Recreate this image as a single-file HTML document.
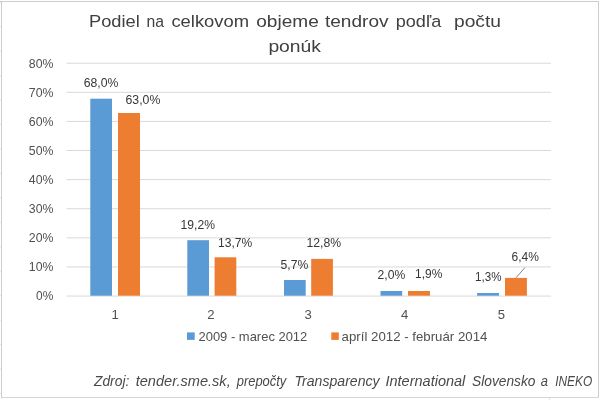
<!DOCTYPE html>
<html lang="sk"><head><meta charset="utf-8"><title>Podiel na celkovom objeme tendrov podľa počtu ponúk</title>
<style>
html,body{margin:0;padding:0;background:#fff;}
body{width:600px;height:400px;overflow:hidden;}
svg{display:block;font-family:"Liberation Sans",sans-serif;}
text{white-space:pre;}
</style></head><body>
<svg width="600" height="400" viewBox="0 0 600 400">
<rect width="600" height="400" fill="#fff"/>
<g fill="#e4e4e4">
<rect x="0" y="1.70" width="1" height="1"/>
<rect x="0" y="26.16" width="1" height="1"/>
<rect x="0" y="50.61" width="1" height="1"/>
<rect x="0" y="75.07" width="1" height="1"/>
<rect x="0" y="99.52" width="1" height="1"/>
<rect x="0" y="123.98" width="1" height="1"/>
<rect x="0" y="148.44" width="1" height="1"/>
<rect x="0" y="172.89" width="1" height="1"/>
<rect x="0" y="197.35" width="1" height="1"/>
<rect x="0" y="221.80" width="1" height="1"/>
<rect x="0" y="246.26" width="1" height="1"/>
<rect x="0" y="270.72" width="1" height="1"/>
<rect x="0" y="295.17" width="1" height="1"/>
<rect x="0" y="319.63" width="1" height="1"/>
<rect x="0" y="344.08" width="1" height="1"/>
<rect x="0" y="368.54" width="1" height="1"/>
<rect x="0" y="393.00" width="1" height="1"/>
<rect x="549" y="398" width="1" height="2"/>
</g>
<g fill="#cdcdcd">
<rect x="0" y="1" width="599" height="1"/>
<rect x="1" y="1" width="1" height="397.5"/>
<rect x="598" y="1" width="1" height="397"/>
</g>
<rect x="1" y="397" width="598" height="1" fill="#d6d6d6"/>
<g fill="#d9d9d9">
<rect x="66.5" y="62.70" width="484.5" height="1"/>
<rect x="66.5" y="91.81" width="484.5" height="1"/>
<rect x="66.5" y="120.91" width="484.5" height="1"/>
<rect x="66.5" y="150.02" width="484.5" height="1"/>
<rect x="66.5" y="179.12" width="484.5" height="1"/>
<rect x="66.5" y="208.23" width="484.5" height="1"/>
<rect x="66.5" y="237.34" width="484.5" height="1"/>
<rect x="66.5" y="266.44" width="484.5" height="1"/>
<rect x="66.5" y="295.55" width="484.5" height="1"/>
</g>
<g fill="#5b9bd5">
<rect x="90.3" y="98.7" width="21.70" height="197.00"/>
<rect x="187.3" y="240.2" width="21.70" height="55.50"/>
<rect x="284" y="280" width="21.70" height="15.70"/>
<rect x="380.5" y="291" width="21.70" height="4.70"/>
<rect x="477.1" y="293" width="21.90" height="2.70"/>
</g><g fill="#ed7d31">
<rect x="118" y="113" width="22.00" height="182.70"/>
<rect x="214.6" y="257.3" width="21.70" height="38.40"/>
<rect x="311.2" y="258.9" width="21.70" height="36.80"/>
<rect x="408" y="291" width="22.00" height="4.70"/>
<rect x="505" y="277.9" width="21.90" height="17.80"/>
</g>
<text y="26.75" font-size="17.4px" fill="#404040"><tspan x="89.0" textLength="50.75" lengthAdjust="spacingAndGlyphs">Podiel</tspan> <tspan x="146.5" textLength="17.50" lengthAdjust="spacingAndGlyphs">na</tspan> <tspan x="171.4" textLength="77.60" lengthAdjust="spacingAndGlyphs">celkovom</tspan> <tspan x="256.25" textLength="62.50" lengthAdjust="spacingAndGlyphs">objeme</tspan> <tspan x="325" textLength="63.50" lengthAdjust="spacingAndGlyphs">tendrov</tspan> <tspan x="395.75" textLength="45.50" lengthAdjust="spacingAndGlyphs">podľa</tspan>  <tspan x="454" textLength="47.00" lengthAdjust="spacingAndGlyphs">počtu</tspan></text>
<text y="52.25" font-size="17.4px" fill="#404040"><tspan x="268.4" textLength="52.6" lengthAdjust="spacingAndGlyphs">ponúk</tspan></text>
<g fill="#505050" font-size="13.1px">
<text x="28.80" y="67.75" textLength="24.6" lengthAdjust="spacingAndGlyphs">80%</text>
<text x="28.80" y="96.75" textLength="24.6" lengthAdjust="spacingAndGlyphs">70%</text>
<text x="28.80" y="125.75" textLength="24.6" lengthAdjust="spacingAndGlyphs">60%</text>
<text x="28.80" y="154.75" textLength="24.6" lengthAdjust="spacingAndGlyphs">50%</text>
<text x="28.80" y="183.75" textLength="24.6" lengthAdjust="spacingAndGlyphs">40%</text>
<text x="28.80" y="212.75" textLength="24.6" lengthAdjust="spacingAndGlyphs">30%</text>
<text x="28.80" y="241.75" textLength="24.6" lengthAdjust="spacingAndGlyphs">20%</text>
<text x="28.80" y="270.75" textLength="24.6" lengthAdjust="spacingAndGlyphs">10%</text>
<text x="36.10" y="299.75" textLength="17.3" lengthAdjust="spacingAndGlyphs">0%</text>
</g>
<g fill="#505050" font-size="13.1px" text-anchor="middle">
<text x="115.2" y="319.4">1</text>
<text x="210.9" y="319.4">2</text>
<text x="308.1" y="319.4">3</text>
<text x="404.7" y="319.4">4</text>
<text x="501.3" y="319.4">5</text>
</g>
<g fill="#363636" font-size="13.4px">
<text x="83.7" y="87" textLength="34.60" lengthAdjust="spacingAndGlyphs">68,0%</text>
<text x="125.5" y="104.1" textLength="34.80" lengthAdjust="spacingAndGlyphs">63,0%</text>
<text x="180.6" y="228.9" textLength="34.40" lengthAdjust="spacingAndGlyphs">19,2%</text>
<text x="218" y="246.7" textLength="34.20" lengthAdjust="spacingAndGlyphs">13,7%</text>
<text x="280.6" y="268.6" textLength="27.70" lengthAdjust="spacingAndGlyphs">5,7%</text>
<text x="306.5" y="247.4" textLength="34.70" lengthAdjust="spacingAndGlyphs">12,8%</text>
<text x="377.5" y="278.7" textLength="27.70" lengthAdjust="spacingAndGlyphs">2,0%</text>
<text x="415" y="277.5" textLength="27.30" lengthAdjust="spacingAndGlyphs">1,9%</text>
<text x="475" y="281.2" textLength="26.50" lengthAdjust="spacingAndGlyphs">1,3%</text>
<text x="511.6" y="261" textLength="27.40" lengthAdjust="spacingAndGlyphs">6,4%</text>
</g>
<line x1="516" y1="277.75" x2="525" y2="267.5" stroke="#858585" stroke-width="1"/>
<rect x="187" y="332.4" width="7.7" height="7.5" fill="#5b9bd5"/>
<rect x="331.3" y="332.4" width="7.5" height="7.5" fill="#ed7d31"/>
<g fill="#505050" font-size="13.1px">
<text x="198.5" y="340.5" textLength="108.8" lengthAdjust="spacingAndGlyphs">2009 - marec 2012</text>
<text x="341.6" y="340.5" textLength="145.8" lengthAdjust="spacingAndGlyphs">apríl 2012 - február 2014</text>
</g>
<text y="386" font-size="14.8px" font-style="italic" fill="#4c4848"><tspan x="94" textLength="35.30" lengthAdjust="spacingAndGlyphs">Zdroj:</tspan> <tspan x="135.7" textLength="95.00" lengthAdjust="spacingAndGlyphs">tender.sme.sk,</tspan> <tspan x="236.7" textLength="49.60" lengthAdjust="spacingAndGlyphs">prepočty</tspan> <tspan x="294.5" textLength="85.10" lengthAdjust="spacingAndGlyphs">Transparency</tspan> <tspan x="385.5" textLength="79.80" lengthAdjust="spacingAndGlyphs">International</tspan> <tspan x="472" textLength="63.50" lengthAdjust="spacingAndGlyphs">Slovensko</tspan> <tspan x="540.8" textLength="7.20" lengthAdjust="spacingAndGlyphs">a</tspan> <tspan x="555.2" textLength="37.00" lengthAdjust="spacingAndGlyphs">INEKO</tspan></text>
</svg>
</body></html>
